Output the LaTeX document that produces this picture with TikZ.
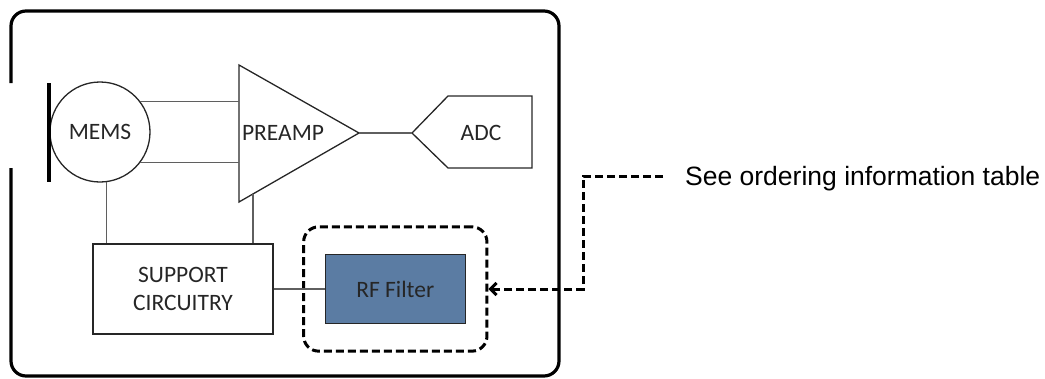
\documentclass[tikz,border=0pt]{standalone}
\usepackage{fontspec}
\setmainfont{Carlito}
\newfontfamily\notefont{Liberation Sans}
\usetikzlibrary{arrows.meta,positioning,fit}

\definecolor{rfblue}{RGB}{91,124,163}
\definecolor{wiregray}{RGB}{95,95,95}

\begin{document}
\begin{tikzpicture}[x=1pt,y=-1pt,>={Straight Barb[length=6pt,width=12pt]},
    block/.style={draw=black!85,line width=1.3pt,text=black!85,
      font=\fontsize{23.5}{28}\selectfont},
    wire/.style={draw=wiregray,line width=1.2pt},
    refline/.style={draw=black,line width=3pt,dash pattern=on 8pt off 4pt}]
  \useasboundingbox (0,0) rectangle (1045,378);

  % package outline, open at the sound port
  \draw[line width=3.2pt,rounded corners=15pt]
    (11,83) -- (11,11) -- (559,11) -- (559,376) -- (11,376) -- (11,168);

  \node[block,circle,minimum size=100pt,inner sep=0pt] (mems) at (100,132) {MEMS};
  \draw[line width=4.5pt] (49,83) -- (49,182);

  \coordinate (ampT) at (239,65);
  \coordinate (ampB) at (239,202);
  \coordinate (ampO) at (359,133);
  \coordinate (ampS) at (253,194);
  \draw[block] (ampT) -- (ampO) -- (ampB) -- cycle;
  \node[block,draw=none] (amp) at (283,133) {PREAMP};

  \coordinate (adcP) at (412,133);
  \draw[block] (adcP) -- (448,96) -- (532,96) -- (532,168) -- (448,168) -- cycle;
  \node[block,draw=none] (adc) at (481,133) {ADC};

  \node[block,minimum width=180pt,minimum height=90pt,align=center] (sup) at (183,289) {SUPPORT\\CIRCUITRY};
  \node[block,fill=rfblue,minimum width=140pt,minimum height=69pt] (rf) [right=51pt of sup] {RF Filter};
  \node[refline,rounded corners=15pt,fit=(rf),inner xsep=21pt,inner ysep=27pt] (opt) {};

  \node[font=\notefont\fontsize{26.5}{30}\selectfont,inner sep=0pt,anchor=base west] (note) at (685,185) {See ordering information table};

  \path[wire]
    (mems.37) edge (mems.37 -| ampT)
    (mems.-37) edge (mems.-37 -| ampT)
    (mems.-83) edge (mems.-83 |- sup.north)
    (ampS) edge (ampS |- sup.north)
    (ampO) edge (adcP)
    (sup.east) edge (rf.west)
    ;

  \draw[refline,->] ([xshift=-22pt,yshift=9pt]note.base west) -| ([xshift=95pt]opt.east) -- (opt.east);
\end{tikzpicture}
\end{document}
